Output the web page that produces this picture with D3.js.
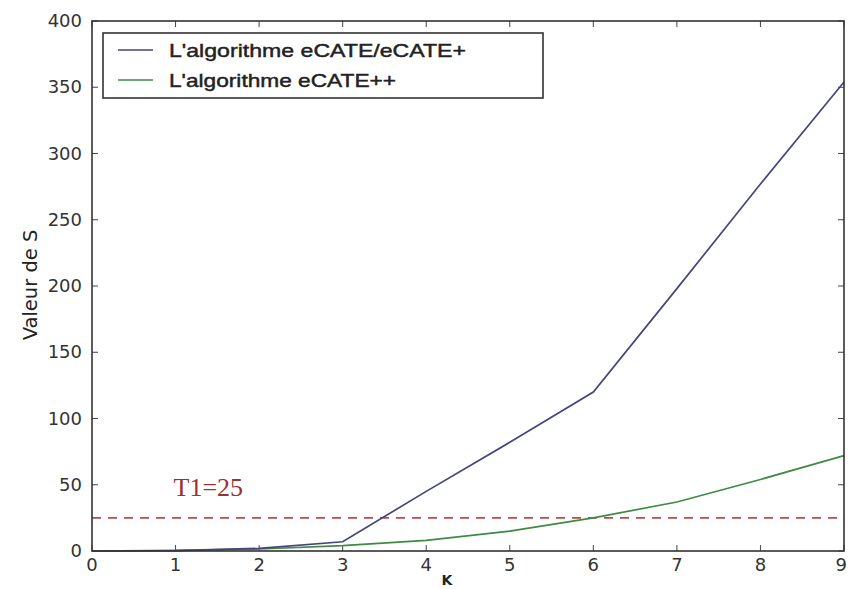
<!DOCTYPE html>
<html><head><meta charset="utf-8">
<script src="https://cdn.jsdelivr.net/npm/d3@7"></script>
<style>body{margin:0;background:#fff}svg{display:block}</style>
</head><body>
<svg id="c" width="848" height="589"></svg>
<script>
const kValues = [0,1,2,3,4,5,6,7,8,9];
const seriesNames = ["L'algorithme eCATE/eCATE+", "L'algorithme eCATE++"];
const eCATE = [0,0.3,2,7,45,82,120,198,277,354];
const eCATEpp = [0,0.5,1.5,4,8,15,25,37,54,72];
const threshold = 25;
const thresholdLabel = "T1=25";
const xTicks = [0,1,2,3,4,5,6,7,8,9];
const yTicks = [0,50,100,150,200,250,300,350,400];

const svg = d3.select("#c");
const L=92, R=844, T=21, B=551;
const x = d3.scaleLinear().domain([0,9]).range([L,R]);
const y = d3.scaleLinear().domain([0,400]).range([B,T]);
const font = "'DejaVu Sans', sans-serif";

const g = svg.append("g");
xTicks.forEach((t,i)=>{
  g.append("line").attr("x1",x(t)).attr("x2",x(t)).attr("y1",B).attr("y2",B-6).attr("stroke","#444");
  g.append("line").attr("x1",x(t)).attr("x2",x(t)).attr("y1",T).attr("y2",T+6).attr("stroke","#444");
  const last = i === xTicks.length-1;
  g.append("text").attr("x",last ? 847 : x(t)).attr("y",B+20).attr("text-anchor",last ? "end" : "middle")
   .attr("font-family",font).attr("font-size",18).attr("fill","#333").text(t);
});
yTicks.forEach(t=>{
  g.append("line").attr("x1",L).attr("x2",L+6).attr("y1",y(t)).attr("y2",y(t)).attr("stroke","#444");
  g.append("line").attr("x1",R).attr("x2",R-6).attr("y1",y(t)).attr("y2",y(t)).attr("stroke","#444");
  g.append("text").attr("x",L-10).attr("y",y(t)+6).attr("text-anchor","end")
   .attr("font-family",font).attr("font-size",18).attr("fill","#333").text(t);
});

svg.append("line").attr("x1",L).attr("x2",R).attr("y1",y(threshold)).attr("y2",y(threshold))
  .attr("stroke","#c04a4a").attr("stroke-width",1.6).attr("stroke-dasharray","9,7");
svg.append("text").attr("x",x(1)-2).attr("y",y(threshold)-22).attr("font-family","'Liberation Serif', serif")
  .attr("font-size",26).attr("fill","#9a3030").text(thresholdLabel);

const line = d3.line().x((d,i)=>x(kValues[i])).y(d=>y(d));
svg.append("path").datum(eCATEpp).attr("d",line).attr("fill","none").attr("stroke","#3f8a45").attr("stroke-width",1.7);
svg.append("path").datum(eCATE).attr("d",line).attr("fill","none").attr("stroke","#45457e").attr("stroke-width",1.7);

svg.append("rect").attr("x",L).attr("y",T).attr("width",R-L).attr("height",B-T)
  .attr("fill","none").attr("stroke","#333").attr("stroke-width",1.6);

const lg = svg.append("g");
lg.append("rect").attr("x",103).attr("y",33).attr("width",440).attr("height",65)
  .attr("fill","#fff").attr("stroke","#333").attr("stroke-width",1.6);
const colors = ["#45457e","#3f8a45"];
const legendWidths = [297, 227];
seriesNames.forEach((n,i)=>{
  const yy = 50 + i*30;
  lg.append("line").attr("x1",118).attr("x2",153).attr("y1",yy).attr("y2",yy).attr("stroke",colors[i]).attr("stroke-width",1.7);
  lg.append("text").attr("x",169).attr("y",yy+7).attr("font-family","'Liberation Sans', Arial, sans-serif")
    .attr("font-size",19).attr("fill","#222").attr("stroke","#222").attr("stroke-width",0.45)
    .attr("textLength",legendWidths[i]).attr("lengthAdjust","spacingAndGlyphs").text(n);
});

svg.append("text").attr("x",447).attr("y",585).attr("text-anchor","middle").attr("font-family",font)
  .attr("font-size",14).attr("font-weight","bold").attr("fill","#222").text("K");
svg.append("text").attr("transform","translate(37,285) rotate(-90)").attr("text-anchor","middle")
  .attr("font-family",font).attr("font-size",19.5).attr("fill","#222").text("Valeur de S");
</script>
</body></html>
